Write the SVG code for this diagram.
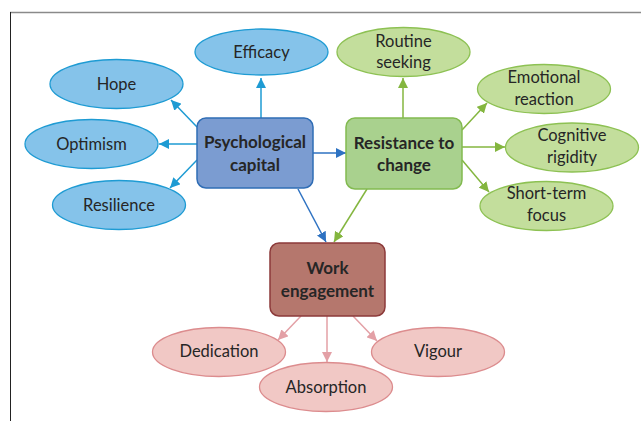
<svg xmlns="http://www.w3.org/2000/svg" width="641" height="421" viewBox="0 0 641 421">
<style>
text{font-family:Lato,"Liberation Sans",sans-serif;fill:#262626;text-anchor:middle;dominant-baseline:central}
.t{font-size:16.5px}
.b{font-size:17px;font-weight:bold}
.eb{fill:#85C3EA;stroke:#1E9BD3;stroke-width:1.3}
.eg{fill:#C3DE9C;stroke:#8DC153;stroke-width:1.3}
.ep{fill:#F1C8C5;stroke:#DC8C8E;stroke-width:1.3}
.cb{stroke:#1E9BD3;stroke-width:1.5;fill:none}
.cg{stroke:#84B63F;stroke-width:1.5;fill:none}
.cp{stroke:#E3A0A6;stroke-width:1.5;fill:none}
.cd{stroke:#2E72C2;stroke-width:1.5;fill:none}
</style>
<defs>
<marker id="ab" viewBox="0 0 10 10" refX="10" refY="5" markerWidth="10" markerHeight="10" markerUnits="userSpaceOnUse" orient="auto"><path d="M0,0 L10,5 L0,10 z" fill="#1E9BD3"/></marker>
<marker id="ag" viewBox="0 0 10 10" refX="10" refY="5" markerWidth="10" markerHeight="10" markerUnits="userSpaceOnUse" orient="auto"><path d="M0,0 L10,5 L0,10 z" fill="#84B63F"/></marker>
<marker id="ap" viewBox="0 0 10 10" refX="10" refY="5" markerWidth="10" markerHeight="10" markerUnits="userSpaceOnUse" orient="auto"><path d="M0,0 L10,5 L0,10 z" fill="#E3A0A6"/></marker>
<marker id="ad" viewBox="0 0 10 10" refX="10" refY="5" markerWidth="10" markerHeight="10" markerUnits="userSpaceOnUse" orient="auto"><path d="M0,0 L10,5 L0,10 z" fill="#2E72C2"/></marker>
</defs>
<rect width="641" height="421" fill="#fff"/>
<line x1="10" y1="12.5" x2="641" y2="12.5" stroke="#8a8a8a" stroke-width="1.5"/>
<line x1="10.5" y1="12" x2="10.5" y2="421" stroke="#222" stroke-width="1"/>
<g id="connectors">
<line class="cb" x1="261" y1="118" x2="261" y2="78" marker-end="url(#ab)"/>
<line class="cb" x1="197" y1="127" x2="171" y2="100" marker-end="url(#ab)"/>
<line class="cb" x1="197" y1="144" x2="159" y2="144" marker-end="url(#ab)"/>
<line class="cb" x1="197" y1="160" x2="170" y2="188" marker-end="url(#ab)"/>
<line class="cd" x1="313" y1="153" x2="346" y2="153" marker-end="url(#ad)"/>
<line class="cg" x1="403" y1="118" x2="403" y2="78" marker-end="url(#ag)"/>
<line class="cg" x1="462" y1="130" x2="487" y2="103" marker-end="url(#ag)"/>
<line class="cg" x1="462" y1="147" x2="505" y2="147" marker-end="url(#ag)"/>
<line class="cg" x1="462" y1="160" x2="489" y2="192" marker-end="url(#ag)"/>
<line class="cd" x1="298" y1="189" x2="326" y2="242" marker-end="url(#ad)"/>
<line class="cg" x1="367" y1="189" x2="334" y2="242" marker-end="url(#ag)"/>
<line class="cp" x1="301" y1="316" x2="278" y2="340" marker-end="url(#ap)"/>
<line class="cp" x1="327" y1="316" x2="327" y2="362" marker-end="url(#ap)"/>
<line class="cp" x1="353" y1="316" x2="377" y2="341" marker-end="url(#ap)"/>
</g>
<g id="psychological-capital"><rect x="197" y="118" width="116" height="70" rx="9" fill="#7B9CD1" stroke="#2F6DB5" stroke-width="1.5"/><text class="b" x="255" y="141">Psychological</text><text class="b" x="255" y="164">capital</text></g>
<g id="resistance-to-change"><rect x="346" y="118" width="116" height="71" rx="9" fill="#A9D18E" stroke="#82BA50" stroke-width="1.5"/><text class="b" x="404" y="142">Resistance to</text><text class="b" x="404" y="164">change</text></g>
<g id="work-engagement"><rect x="270" y="243" width="115" height="73" rx="9" fill="#B5776D" stroke="#8C3A3A" stroke-width="1.5"/><text class="b" x="327.5" y="267">Work</text><text class="b" x="327.5" y="290">engagement</text></g>
<g id="efficacy"><ellipse class="eb" cx="261.5" cy="52" rx="66.5" ry="23"/><text class="t" x="261.5" y="52">Efficacy</text></g>
<g id="hope"><ellipse class="eb" cx="116.5" cy="84" rx="66.5" ry="24.5"/><text class="t" x="116.5" y="84">Hope</text></g>
<g id="optimism"><ellipse class="eb" cx="91.5" cy="144" rx="66.5" ry="24.5"/><text class="t" x="91.5" y="144">Optimism</text></g>
<g id="resilience"><ellipse class="eb" cx="119" cy="205" rx="66.5" ry="24.5"/><text class="t" x="119" y="205">Resilience</text></g>
<g id="routine-seeking"><ellipse class="eg" cx="403.5" cy="52" rx="66.5" ry="24.5"/><text class="t" x="403.5" y="41">Routine</text><text class="t" x="403.5" y="62">seeking</text></g>
<g id="emotional-reaction"><ellipse class="eg" cx="544" cy="89" rx="66.5" ry="24.5"/><text class="t" x="544" y="77">Emotional</text><text class="t" x="544" y="99">reaction</text></g>
<g id="cognitive-rigidity"><ellipse class="eg" cx="572" cy="147.5" rx="66.5" ry="24.5"/><text class="t" x="572" y="135">Cognitive</text><text class="t" x="572" y="157">rigidity</text></g>
<g id="short-term-focus"><ellipse class="eg" cx="546.5" cy="206" rx="66.5" ry="24.5"/><text class="t" x="546.5" y="193">Short-term</text><text class="t" x="546.5" y="215">focus</text></g>
<g id="dedication"><ellipse class="ep" cx="219" cy="352" rx="66.5" ry="24.5"/><text class="t" x="219" y="351">Dedication</text></g>
<g id="absorption"><ellipse class="ep" cx="326" cy="387" rx="66.5" ry="24.5"/><text class="t" x="326" y="387">Absorption</text></g>
<g id="vigour"><ellipse class="ep" cx="438" cy="352" rx="66.5" ry="24.5"/><text class="t" x="438" y="351">Vigour</text></g>
</svg>
